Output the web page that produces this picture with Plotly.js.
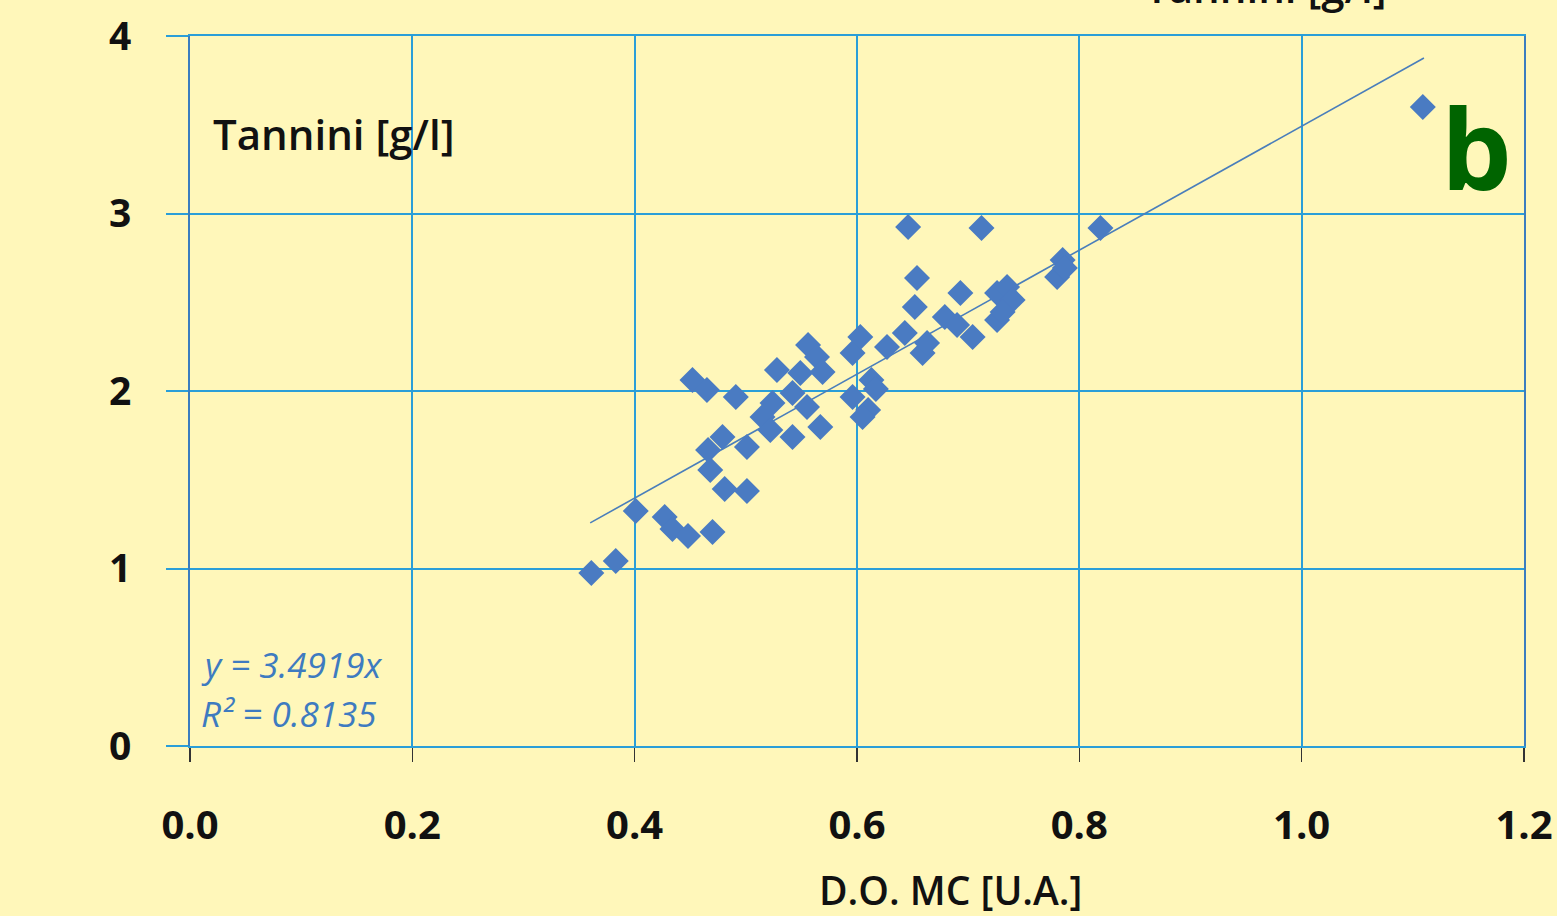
<!DOCTYPE html>
<html>
<head>
<meta charset="utf-8">
<script src="https://cdn.plot.ly/plotly-3.0.1.min.js"></script>
<style>html,body{margin:0;padding:0;background:#FFF7BA;}#chart{width:1557px;height:916px;}</style>
</head>
<body>
<div id="chart"></div>
<script>
// D.O. MC [U.A.] (x) and Tannini [g/l] (y)
const doMC = [0.361,0.383,0.401,0.427,0.434,0.448,0.470,0.452,0.465,0.491,
  0.481,0.501,0.468,0.466,0.479,0.501,0.528,0.556,0.564,0.569,
  0.549,0.524,0.515,0.522,0.542,0.555,0.567,0.542,0.596,0.603,
  0.596,0.610,0.605,0.613,0.617,0.627,0.643,0.659,0.652,0.654,
  0.646,0.712,0.819,0.679,0.693,0.690,0.704,0.726,0.735,0.740,
  0.726,0.731,0.785,0.780,0.787,0.663,1.109];
const tannini = [0.975,1.042,1.324,1.290,1.223,1.183,1.206,2.062,2.006,1.966,
  1.448,1.437,1.555,1.668,1.741,1.685,2.118,2.259,2.192,2.107,
  2.101,1.932,1.854,1.780,1.741,1.910,1.797,1.989,2.214,2.304,
  1.966,1.893,1.854,2.062,2.011,2.248,2.327,2.214,2.473,2.637,
  2.924,2.918,2.918,2.417,2.552,2.372,2.304,2.552,2.586,2.513,
  2.400,2.445,2.738,2.642,2.693,2.270,3.600];
const slope = 3.4919;
const trendX = [0.36, 1.11];
const trendY = trendX.map(v => slope * v);
const xTicks = [0, 0.2, 0.4, 0.6, 0.8, 1.0, 1.2];
const xTickText = ['0.0','0.2','0.4','0.6','0.8','1.0','1.2'];
const yTicks = [0, 1, 2, 3, 4];

const grid = '#2A9ED8';
const traces = [
  {x: trendX, y: trendY, mode: 'lines', line: {color: '#4A7EBB', width: 1.6}, hoverinfo: 'skip'},
  {x: doMC, y: tannini, mode: 'markers', marker: {symbol: 'diamond', size: 20, color: '#4A7BC2', line: {width: 0}}}
];
const layout = {
  width: 1557, height: 916,
  paper_bgcolor: '#FFF7BA', plot_bgcolor: '#FFF7BA',
  showlegend: false,
  margin: {l: 190, r: 33, t: 36, b: 170},
  font: {family: 'Open Sans, sans-serif', color: '#111'},
  xaxis: {range: [0, 1.2], tickvals: xTicks, ticktext: xTickText,
    showgrid: true, gridcolor: grid, gridwidth: 2, zeroline: false,
    showline: true, linecolor: grid, linewidth: 2, mirror: true,
    ticks: 'outside', ticklen: 14, tickcolor: '#333', tickwidth: 1.5,
    ticklabelstandoff: 29,
    tickfont: {size: 40, family: 'Open Sans, sans-serif', weight: 'bold', color: '#111'}},
  yaxis: {range: [0, 4], tickvals: yTicks,
    showgrid: true, gridcolor: grid, gridwidth: 2, zeroline: false,
    showline: true, linecolor: '#3B7DBF', linewidth: 2, mirror: true,
    ticks: 'outside', ticklen: 22, tickcolor: grid, tickwidth: 2,
    ticklabelstandoff: 27,
    tickfont: {size: 39, family: 'Open Sans, sans-serif', weight: 'bold', color: '#111'}},
  annotations: [
    {text: 'D.O. MC [U.A.]', xref: 'paper', yref: 'paper', x: (950-190)/1334, y: -(889-746)/710,
      xanchor: 'center', yanchor: 'middle', showarrow: false,
      font: {size: 39, family: 'Open Sans, sans-serif', weight: 600, color: '#111'}},
    {text: 'Tannini [g/l]', xref: 'paper', yref: 'paper', x: (211-190)/1334, y: (746-133)/710,
      xanchor: 'left', yanchor: 'middle', showarrow: false,
      font: {size: 42, family: 'Open Sans, sans-serif', weight: 600, color: '#111'}},
    {text: 'Tannini [g/l]', xref: 'paper', yref: 'paper', x: (1265-190)/1334, y: (746-17)/710,
      xanchor: 'center', yanchor: 'bottom', showarrow: false,
      font: {size: 42, family: 'Open Sans, sans-serif', weight: 600, color: '#111'}},
    {text: '<b>b</b>', xref: 'paper', yref: 'paper', x: (1476-190)/1334, y: (746-146)/710,
      xanchor: 'center', yanchor: 'middle', showarrow: false,
      font: {size: 112, family: 'Open Sans, sans-serif', color: '#006400'}},
    {text: '<i>y = 3.4919x</i>', xref: 'paper', yref: 'paper', x: (199-190)/1334, y: (746-664)/710,
      xanchor: 'left', yanchor: 'middle', showarrow: false,
      font: {size: 35, family: 'Open Sans, sans-serif', color: '#3E7BC0'}},
    {text: '<i>R² = 0.8135</i>', xref: 'paper', yref: 'paper', x: (199-190)/1334, y: (746-713)/710,
      xanchor: 'left', yanchor: 'middle', showarrow: false,
      font: {size: 35, family: 'Open Sans, sans-serif', color: '#3E7BC0'}}
  ]
};
Plotly.newPlot('chart', traces, layout, {displayModeBar: false, staticPlot: true});
</script>
</body>
</html>
